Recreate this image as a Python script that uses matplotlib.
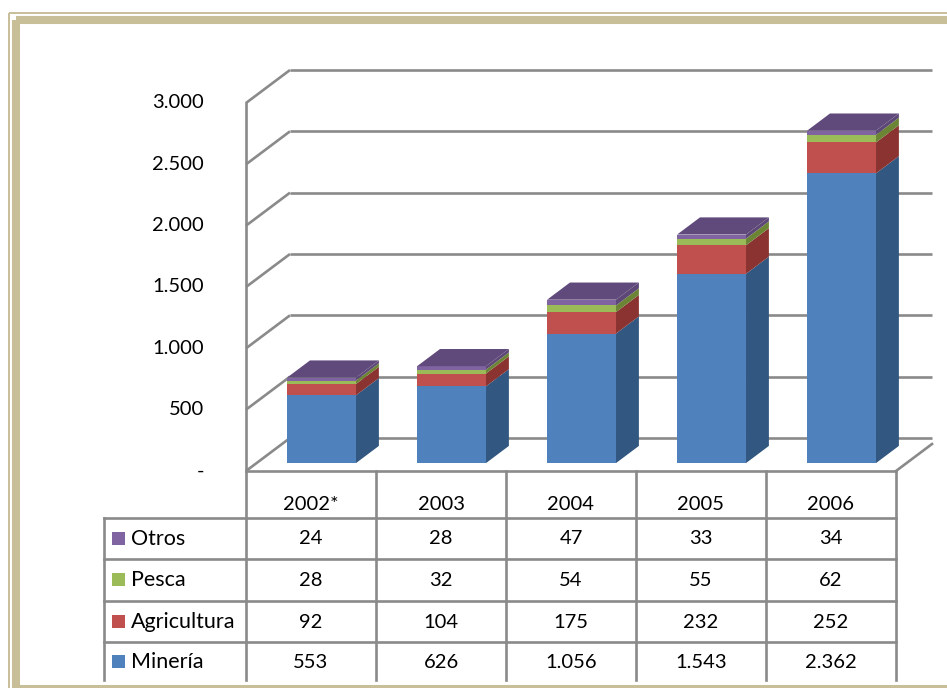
import matplotlib.pyplot as plt
from matplotlib.patches import Polygon, Rectangle
from matplotlib.transforms import blended_transform_factory

years = ['2002*', '2003', '2004', '2005', '2006']
series = ['Minería', 'Agricultura', 'Pesca', 'Otros']
mineria = [553, 626, 1056, 1543, 2362]
agricultura = [92, 104, 175, 232, 252]
pesca = [28, 32, 54, 55, 62]
otros = [24, 28, 47, 33, 34]
values = [mineria, agricultura, pesca, otros]
y_ticks = [0, 500, 1000, 1500, 2000, 2500, 3000]

front_cols = ['#4F81BD', '#C0504D', '#9BBB59', '#8064A2']
side_cols = ['#325780', '#8A3331', '#6C8535', '#5C4777']
top_col = '#604A7B'
grid_col = '#8A8A8A'
frame_col = '#C8BF99'


def fmt(v):
    # thousands separator as a dot
    return f'{v:,}'.replace(',', '.')


plt.rcParams['font.family'] = ['Lato', 'DejaVu Sans']
W, H = 947, 688
fig = plt.figure(figsize=(W / 100, H / 100), dpi=100)

# overlay in pixel coordinates for frame and table
ov = fig.add_axes([0, 0, 1, 1])
ov.set_xlim(0, W)
ov.set_ylim(H, 0)
ov.axis('off')

# chart axes: front plane, x in categories, y in values
x0px, x1px, y0px, y1px = 246, 896, 471, 103
ax = fig.add_axes([x0px / W, (H - y0px) / H, (x1px - x0px) / W, (y0px - y1px) / H])
ax.set_xlim(0, 5)
ax.set_ylim(0, 3000)
ax.axis('off')

px_x = 5 / (x1px - x0px)
px_y = 3000 / (y0px - y1px)
ddx, ddy = 44 * px_x, 33 * px_y      # full depth offset
xclip = (932 - x0px) * px_x          # right wall clip

lw = 1.9
# walls: side-wall diagonals and back-wall gridlines
for v in y_ticks:
    ax.plot([0, ddx], [v, v + ddy], color=grid_col, lw=lw, clip_on=False,
            solid_capstyle='butt', zorder=1)
    ax.plot([ddx, xclip], [v + ddy, v + ddy], color=grid_col, lw=lw,
            clip_on=False, solid_capstyle='butt', zorder=1)
    ax.text(-42 * px_x, v, '-' if v == 0 else fmt(v), ha='right', va='center',
            fontsize=14.5, color='black', clip_on=False)

# front y axis line (continues down into the table)
trans_tab = blended_transform_factory(ax.transData, ov.transData)
ov.plot([0, 0], [103, 680], color=grid_col, lw=lw, transform=trans_tab)

# floor right diagonal
t = (xclip - 5) / ddx
ax.plot([5, 5 + t * ddx], [0, t * ddy], color=grid_col, lw=lw, clip_on=False, zorder=1)

# bars
bw = 0.53
fo, bd = 0.24, 0.52
for i in range(len(years)):
    bx0 = i + 0.5 - bw / 2 + fo * ddx
    bx1 = bx0 + bw
    bdx, bdy = bd * ddx, bd * ddy
    base = fo * ddy
    for k in range(len(series)):
        v = values[k][i]
        top = base + v
        ax.add_patch(Rectangle((bx0, base), bw, v, facecolor=front_cols[k],
                               edgecolor='none', zorder=3, clip_on=False))
        ax.add_patch(Polygon([(bx1, base), (bx1 + bdx, base + bdy),
                              (bx1 + bdx, top + bdy), (bx1, top)],
                             closed=True, facecolor=side_cols[k],
                             edgecolor='none', zorder=3, clip_on=False))
        base = top
    ax.add_patch(Polygon([(bx0, base), (bx1, base), (bx1 + bdx, base + bdy),
                          (bx0 + bdx, base + bdy)], closed=True,
                         facecolor=top_col, edgecolor='none', zorder=3,
                         clip_on=False))

# data table
row_lines = [518, 559, 601, 642]
row_text = [539, 580, 622, 662]
tab_left = 104
ov.plot([0, 5], [471, 471], color=grid_col, lw=lw, transform=trans_tab)
for y in row_lines:
    ov.plot([tab_left, x1px], [y, y], color=grid_col, lw=lw)
ov.plot([tab_left, tab_left], [518, 680], color=grid_col, lw=lw)
for c in range(1, 6):
    ov.plot([c, c], [471, 680], color=grid_col, lw=lw, transform=trans_tab)

for i, yr in enumerate(years):
    ov.text(i + 0.5, 505, yr, ha='center', va='center', fontsize=14.5,
            transform=trans_tab)

order = [3, 2, 1, 0]  # Otros, Pesca, Agricultura, Minería
for r, k in enumerate(order):
    yc = row_text[r]
    ov.add_patch(Rectangle((112, yc - 7), 13, 13, facecolor=front_cols[k],
                           edgecolor='none'))
    ov.text(131, yc, series[k], ha='left', va='center', fontsize=15.5)
    for i in range(len(years)):
        ov.text(i + 0.5, yc, fmt(values[k][i]), ha='center', va='center',
                fontsize=14.5, transform=trans_tab)

# beige frame
ov.add_patch(Rectangle((9, 13), W + 20, H + 20, fill=False, edgecolor=frame_col,
                       lw=1.4))
ov.add_patch(Rectangle((16, 20), W + 20, 669, fill=False, edgecolor=frame_col,
                       lw=5.8))

fig.savefig('out.png', dpi=100, facecolor='white')
